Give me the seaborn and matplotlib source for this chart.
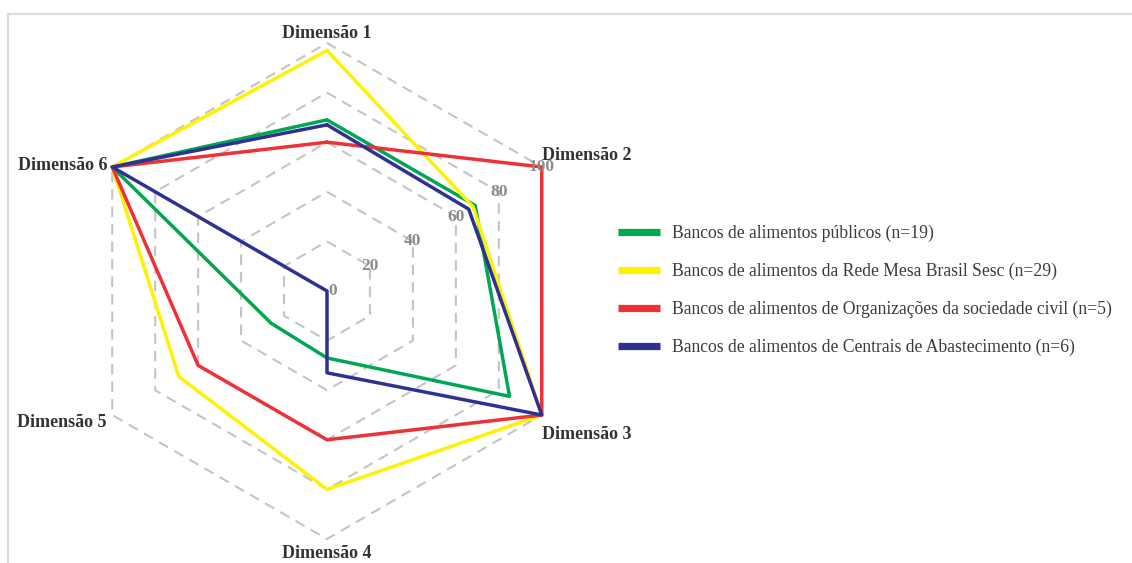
import numpy as np
import pandas as pd
import matplotlib.pyplot as plt
import seaborn as sns
from matplotlib.lines import Line2D

# ============================================
# Data
# ============================================
DIMENSIONS = ['Dimensão 1', 'Dimensão 2', 'Dimensão 3',
              'Dimensão 4', 'Dimensão 5', 'Dimensão 6']

SERIES = ['Bancos de alimentos públicos (n=19)',
          'Bancos de alimentos da Rede Mesa Brasil Sesc (n=29)',
          'Bancos de alimentos de Organizações da sociedade civil (n=5)',
          'Bancos de alimentos de Centrais de Abastecimento (n=6)']

PUBLICOS = [69, 69, 85, 27, 26, 100]
MESA_BRASIL = [97, 68, 100, 80, 69, 100]
SOCIEDADE_CIVIL = [60, 100, 100, 60, 60, 100]
CENTRAIS = [67, 66, 100, 33, 0, 100]

RING_LEVELS = [20, 40, 60, 80, 100]
TICK_VALUES = [0, 20, 40, 60, 80, 100]

COLORS = ['#00a651', '#fff200', '#ee3136', '#2e3192']

# ============================================
# Layout helpers
# ============================================
W, H = 1132, 563
CX, CY = 327, 291          # centre in pixels
PX_PER_UNIT = 2.48         # 100 -> 248 px

angles = np.deg2rad(90 - 60 * np.arange(len(DIMENSIONS)))


def to_xy(values):
    v = np.asarray(values, dtype=float)
    return v * np.cos(angles), v * np.sin(angles)


sns.set_style('white')
plt.rcParams['font.family'] = ['Liberation Serif', 'DejaVu Serif']

fig = plt.figure(figsize=(W / 100, H / 100), dpi=100)
ax = fig.add_axes([0, 0, 2 * CX / W, 1])
ax.set_xlim(-CX / PX_PER_UNIT, CX / PX_PER_UNIT)
ax.set_ylim(-(H - CY) / PX_PER_UNIT, CY / PX_PER_UNIT)
ax.axis('off')

# hexagonal grid
for lvl in RING_LEVELS:
    gx, gy = to_xy([lvl] * len(DIMENSIONS))
    ax.plot(np.append(gx, gx[0]), np.append(gy, gy[0]), color='#c4c4c4',
            lw=1.5, dashes=(5, 3.4), zorder=1)

# long table for seaborn
rows = []
for name, vals in zip(SERIES, [PUBLICOS, MESA_BRASIL, SOCIEDADE_CIVIL, CENTRAIS]):
    xs, ys = to_xy(vals)
    for k in list(range(len(DIMENSIONS))) + [0]:
        rows.append({'serie': name, 'x': xs[k], 'y': ys[k]})
df = pd.DataFrame(rows)

sns.lineplot(data=df, x='x', y='y', hue='serie', hue_order=SERIES,
             palette=COLORS, sort=False, estimator=None, lw=2.5,
             legend=False, ax=ax, zorder=3)

# dimension labels
label_offsets = [((0, 10), 'center'), ((0, 12), 'left'), ((0, -19), 'left'),
                 ((0, -14), 'center'), ((-6, -7), 'right'), ((-5, 2), 'right')]
vx, vy = to_xy([100] * len(DIMENSIONS))
for i, dim in enumerate(DIMENSIONS):
    off, ha = label_offsets[i]
    ax.annotate(dim, xy=(vx[i], vy[i]), xytext=off, textcoords='offset pixels',
                ha=ha, va='center', fontsize=13, fontweight='bold',
                color='#333333', zorder=5)

# radial tick labels along Dimensão 2
for t in TICK_VALUES:
    tx, ty = t * np.cos(angles[1]), t * np.sin(angles[1])
    dx = 6 if t == 0 else 0
    ax.annotate(str(t), xy=(tx, ty), xytext=(dx, 0), textcoords='offset pixels',
                ha='center', va='center', fontsize=12.5, fontweight='bold',
                color='#8c8c8c', zorder=4)

# legend
handles = [Line2D([], [], color=c, lw=5.2, solid_capstyle='butt') for c in COLORS]
leg = fig.legend(handles, SERIES, loc='upper left',
                 bbox_to_anchor=(618 / W, 1 - 225 / H), frameon=False,
                 fontsize=12.7, handlelength=2.4, handletextpad=0.68,
                 labelspacing=1.17, borderpad=0, borderaxespad=0)
for txt in leg.get_texts():
    txt.set_color('#3a3a3a')

# light frame on top and left
fig.add_artist(Line2D([8 / W, 1], [1 - 14 / H, 1 - 14 / H], color='#dcdcdc', lw=1.6))
fig.add_artist(Line2D([8 / W, 8 / W], [0, 1 - 14 / H], color='#dcdcdc', lw=1.6))

fig.savefig('out.png', dpi=100, facecolor='white')
